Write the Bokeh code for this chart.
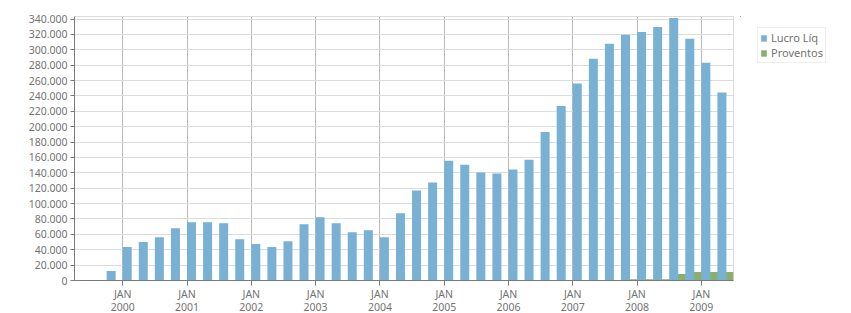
from bokeh.plotting import figure
from bokeh.layouts import row
from bokeh.models import FixedTicker, Legend, LegendItem, ColumnDataSource, Range1d, LinearAxis
from bokeh.transform import dodge
from bokeh.embed import file_html
from bokeh.resources import INLINE

quarters = ["1999-Q4",
            "2000-Q1", "2000-Q2", "2000-Q3", "2000-Q4",
            "2001-Q1", "2001-Q2", "2001-Q3", "2001-Q4",
            "2002-Q1", "2002-Q2", "2002-Q3", "2002-Q4",
            "2003-Q1", "2003-Q2", "2003-Q3", "2003-Q4",
            "2004-Q1", "2004-Q2", "2004-Q3", "2004-Q4",
            "2005-Q1", "2005-Q2", "2005-Q3", "2005-Q4",
            "2006-Q1", "2006-Q2", "2006-Q3", "2006-Q4",
            "2007-Q1", "2007-Q2", "2007-Q3", "2007-Q4",
            "2008-Q1", "2008-Q2", "2008-Q3", "2008-Q4",
            "2009-Q1", "2009-Q2"]
lucro_liq = [12500,
             43500, 50000, 56400, 68000,
             75800, 75800, 74500, 53800,
             47400, 43500, 51200, 73200,
             82200, 74500, 62900, 65400,
             56400, 87400, 117000, 127400,
             155800, 150600, 140300, 139000,
             144200, 157000, 193200, 226800,
             256200, 288500, 307900, 319500,
             323300, 329800, 341400, 314300,
             283300, 244600]
proventos = [0,
             0, 0, 0, 0,
             0, 0, 0, 0,
             0, 0, 0, 0,
             0, 0, 0, 0,
             0, 0, 0, 0,
             0, 0, 0, 0,
             0, 0, 0, 0,
             0, 0, 0, 1700,
             1600, 1600, 8600, 11200,
             11200, 11200]
series_names = ["Lucro Líq", "Proventos"]
tick_years = [2000, 2001, 2002, 2003, 2004, 2005, 2006, 2007, 2008, 2009]
month_label = "JAN"
y_ticks = list(range(0, 340001, 20000))

BLUE = "#78b1d3"
GREEN = "#88b06b"
TEXT = "#737373"
FONT = "Noto Sans"


def slot_of(q):
    y, n = q.split("-Q")
    return (int(y) - 2000) * 4 + int(n) - 1


slots = [slot_of(q) for q in quarters]
src = ColumnDataSource(dict(quarter=quarters, slot=slots, lucro=lucro_liq, prov=proventos))

p = figure(width=740, height=313, output_backend="svg", toolbar_location=None,
           x_range=Range1d(-3, 38), y_range=Range1d(0, 343300),
           min_border_left=74, min_border_right=7, min_border_top=16, min_border_bottom=0)

g = p.vbar(x=dodge("slot", 0.785, range=p.x_range), top="prov", width=0.5, bottom=0,
           source=src, fill_color=GREEN, line_color=None)
b = p.vbar(x=dodge("slot", 0.28, range=p.x_range), top="lucro", width=0.56, bottom=0,
           source=src, fill_color=BLUE, line_color=None)

year_ticks = [(y - 2000) * 4 for y in tick_years]
p.xaxis.ticker = FixedTicker(ticks=year_ticks)
p.xaxis.major_label_overrides = {t: month_label for t in year_ticks}

year_axis = LinearAxis(ticker=FixedTicker(ticks=year_ticks),
                       major_label_overrides={t: str(y) for t, y in zip(year_ticks, tick_years)})
year_axis.axis_line_color = None
year_axis.major_tick_line_color = None
year_axis.minor_tick_line_color = None
year_axis.major_tick_out = 0
year_axis.major_tick_in = 0
year_axis.major_label_standoff = -1
p.add_layout(year_axis, "below")

p.yaxis.ticker = FixedTicker(ticks=y_ticks)
p.yaxis.major_label_overrides = {v: ("{:,}".format(v).replace(",", ".") if v else "0") for v in y_ticks}

for ax in (p.xaxis[0], p.yaxis[0]):
    ax.axis_line_color = "#7a7a7a"
    ax.major_tick_line_color = "#7a7a7a"
    ax.minor_tick_line_color = None
    ax.major_tick_in = 0
for ax in (p.xaxis[0], year_axis, p.yaxis[0]):
    ax.major_label_text_font = FONT
    ax.major_label_text_font_size = "10.5px"
    ax.major_label_text_color = TEXT
p.yaxis.major_tick_out = 4
p.yaxis.major_label_standoff = 3
p.xaxis[0].major_tick_out = 5
p.xaxis[0].major_label_standoff = 1

p.xgrid.grid_line_color = "#b8b8b8"
p.xgrid.grid_line_width = 1
p.ygrid.grid_line_color = "#dcdcdc"
p.ygrid.grid_line_width = 1
p.outline_line_color = "#dcdcdc"
p.background_fill_color = "white"
p.border_fill_color = "white"

# legend lives in a small companion figure to the right (its view shows no bars)
lg = figure(width=111, height=313, output_backend="svg", toolbar_location=None,
            x_axis_type=None, y_axis_type=None,
            x_range=Range1d(1000, 1001), y_range=Range1d(-2, -1), min_border=0)
lg.outline_line_color = None
lg.background_fill_color = "white"
lg.border_fill_color = "white"
lb = lg.vbar(x="slot", top="lucro", width=0.56, source=src, fill_color=BLUE, line_color=None)
lgr = lg.vbar(x="slot", top="prov", width=0.5, source=src, fill_color=GREEN, line_color=None)

legend = Legend(items=[LegendItem(label=series_names[0], renderers=[lb]),
                       LegendItem(label=series_names[1], renderers=[lgr])],
                location=(17, 217))
legend.label_text_font = FONT
legend.label_text_font_size = "11px"
legend.label_text_color = TEXT
legend.label_text_line_height = 1.0
legend.glyph_width = 7
legend.glyph_height = 8
legend.label_standoff = 4
legend.label_height = 12
legend.spacing = 0
legend.padding = 2
legend.margin = 0
legend.border_line_color = "#dcdcdc"
legend.background_fill_alpha = 1
lg.add_layout(legend)

layout = row(p, lg, spacing=0)
open("out.html", "w").write(file_html(layout, INLINE))
